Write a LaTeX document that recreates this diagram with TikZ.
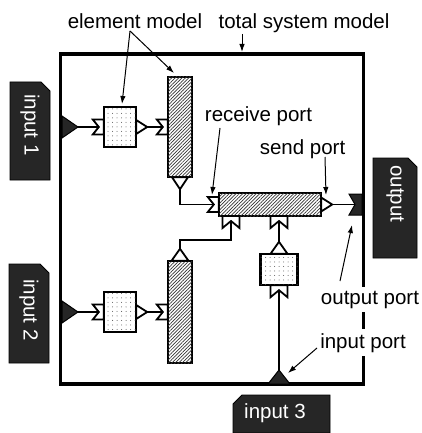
\documentclass[tikz,border=0pt]{standalone}
\usepackage{fontspec}
\setmainfont{Liberation Sans}
\usetikzlibrary{patterns.meta,arrows.meta}
\tikzset{
  lbl/.style={font=\fontsize{20.5}{24}\selectfont, inner sep=0pt},
  tabtxt/.style={font=\fontsize{20.5}{24}\selectfont, text=white, inner sep=0pt},
  tab/.style={fill=black!85, draw=black, line width=0.8pt},
  elem/.style={draw, line width=2.1pt, inner sep=0pt, fill=white,
    postaction={pattern={Dots[distance=4.5pt,radius=0.5pt]}, pattern color=black!65}},
  hatch/.style={draw, line width=2.1pt, inner sep=0pt, fill=white,
    postaction={pattern={Lines[angle=45,distance=2.4pt,line width=0.7pt]}, pattern color=black!80}},
  conn/.style={line width=1.1pt},
  ann/.style={line width=1pt, -{Latex[length=8pt,width=5.5pt]}},
  portw/.style={draw, line width=1.8pt, fill=white, line join=miter},
  portd/.style={draw, line width=1pt, fill=black!85, line join=miter},
  recvL/.pic={\path[portw] (0,-7.5) -- (-11,-7.5) -- (-5,0) -- (-11,7.5) -- (0,7.5) -- cycle;},
  sendR/.pic={\path[portw] (0,-7) -- (11,0) -- (0,7) -- cycle;},
  sendD/.pic={\path[portw] (-8,0) -- (0,12) -- (8,0) -- cycle;},
  sendU/.pic={\path[portw] (-8.5,0) -- (0,-12) -- (8.5,0) -- cycle;},
  recvD/.pic={\path[portw] (-8.5,0) -- (-8.5,12) -- (0,5) -- (8.5,12) -- (8.5,0) -- cycle;},
  inL/.pic={\path[portd] (0,-11) -- (16,0) -- (0,11) -- cycle;},
  inU/.pic={\path[portd] (-11,0) -- (0,-14) -- (11,0) -- cycle;},
  outP/.pic={\path[portd] (0,-10.5) -- (-13,-10.5) -- (-7,0) -- (-13,10.5) -- (0,10.5) -- cycle;},
}
\begin{document}
\begin{tikzpicture}[x=1pt,y=-1pt]
\useasboundingbox (0,0) rectangle (421,433);

% system frame
\node[draw, line width=3.5pt, inner sep=0pt, minimum width=303pt, minimum height=330pt] (sys) at (212,219) {};

% tabs
\path[tab] (10,82) -- (41,82) -- (50,91) -- (50,180) -- (10,180) -- cycle;
\path[tab] (9,264) -- (40,264) -- (49,273) -- (49,363) -- (9,363) -- cycle;
\path[tab] (242,395) -- (330,395) -- (330,433) -- (233,433) -- (233,404) -- cycle;
\path[tab] (373,158) -- (408,158) -- (417,167) -- (417,258) -- (373,258) -- cycle;
\node[tabtxt, rotate=-90] (t1) at (30,125) {input 1};
\node[tabtxt, rotate=-90] (t2) at (29,310) {input 2};
\node[tabtxt] (t3) at (275,413) {input 3};
\node[tabtxt, rotate=-90] (tout) at (395,194) {output};

% named points
\coordinate (ip1) at (62,127);
\coordinate (ip2) at (62,312);
\coordinate (ip3) at (279,384);
\coordinate (op) at (362,204.5);
\coordinate (wb1) at (231,216);
\coordinate (wb2) at (279,216);
\coordinate (bend) at (231,240);

% box positions
\path (120,127) coordinate (e1c) (180,127) coordinate (h1c) (270,204.5) coordinate (wc)
      (180,312) coordinate (h2c) (120,312) coordinate (e2c) (279,269.5) coordinate (e3c);

% connectors (drawn first, boxes cover their ends)
\path node[minimum width=32pt, minimum height=40pt, inner sep=0pt] (e1) at (e1c) {}
      node[minimum width=24pt, minimum height=100pt, inner sep=0pt] (h1) at (h1c) {}
      node[minimum width=102pt, minimum height=23pt, inner sep=0pt] (w) at (wc) {}
      node[minimum width=24pt, minimum height=102pt, inner sep=0pt] (h2) at (h2c) {}
      node[minimum width=32pt, minimum height=40pt, inner sep=0pt] (e2) at (e2c) {}
      node[minimum width=37pt, minimum height=31pt, inner sep=0pt] (e3) at (e3c) {};
\draw[conn] (ip1) -- (e1.west);
\draw[conn] (e1.east) -- (h1.west);
\draw[conn] (h1.south) |- (w.west);
\draw[conn] (wb1) -- (bend) -| (h2.north);
\draw[conn] (wb2) -- (e3.north);
\draw[conn] (e3.south) -- (ip3);
\draw[conn] (w.east) -- (op);
\draw[conn] (ip2) -- (e2.west);
\draw[conn] (e2.east) -- (h2.west);

% boxes
\node[elem, minimum width=32pt, minimum height=40pt] (e1b) at (e1c) {};
\node[hatch, minimum width=24pt, minimum height=100pt] (h1b) at (h1c) {};
\node[hatch, minimum width=102pt, minimum height=23pt] (wbx) at (wc) {};
\node[hatch, minimum width=24pt, minimum height=102pt] (h2b) at (h2c) {};
\node[elem, minimum width=32pt, minimum height=40pt] (e2b) at (e2c) {};
\node[elem, minimum width=37pt, minimum height=31pt] (e3b) at (e3c) {};

% ports
\pic at (e1.west) {recvL};
\pic at (h1.west) {recvL};
\pic at (w.west) {recvL};
\pic at (e2.west) {recvL};
\pic at (h2.west) {recvL};
\pic at (e1.east) {sendR};
\pic at (w.east) {sendR};
\pic at (e2.east) {sendR};
\pic at (h1.south) {sendD};
\pic at (h2.north) {sendU};
\pic at (e3.north) {sendU};
\pic at (wb1) {recvD};
\pic at (wb2) {recvD};
\pic at (e3.south) {recvD};
\pic at (ip1) {inL};
\pic at (ip2) {inL};
\pic at (ip3) {inU};
\pic at (op) {outP};

% labels
\node[lbl, anchor=base] (lem) at (135,29) {element model};
\node[lbl, anchor=base] (lts) at (304,29) {total system model};
\node[lbl, anchor=base] (lrp) at (258.5,121.5) {receive port};
\node[lbl, anchor=base] (lsp) at (302.5,154) {send port};
\node[lbl, anchor=base, fill=white, inner sep=4pt] (lop) at (370,304) {output port};
\node[lbl, anchor=base, fill=white, inner sep=4pt] (lip) at (363,348) {input port};

% annotation arrows
\coordinate (a0s) at (242,34);   \coordinate (a0e) at (242,52);
\coordinate (a1s) at (130,31);   \coordinate (a1e) at (122,104);
\coordinate (a2e) at (174,73);
\coordinate (a3s) at (220,128);  \coordinate (a3e) at (212,195);
\coordinate (a4s) at (325,157);  \coordinate (a4e) at (326,195);
\coordinate (a5s) at (340,281);  \coordinate (a5e) at (352,225);
\coordinate (a6s) at (317,348);  \coordinate (a6e) at (288,373);
\draw[ann] (a0s) -- (a0e);
\draw[ann] (a1s) -- (a1e);
\draw[ann] (a1s) -- (a2e);
\draw[ann] (a3s) -- (a3e);
\draw[ann] (a4s) -- (a4e);
\draw[ann] (a5s) -- (a5e);
\draw[ann] (a6s) -- (a6e);
\end{tikzpicture}
\end{document}
